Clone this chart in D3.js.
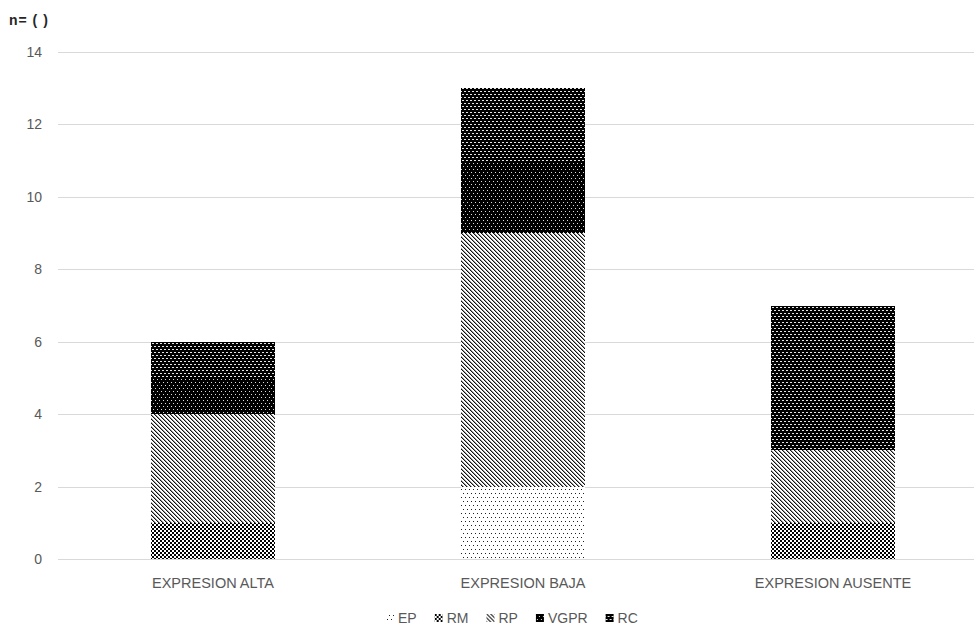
<!DOCTYPE html>
<html>
<head>
<meta charset="utf-8">
<script src="https://cdn.jsdelivr.net/npm/d3@7"></script>
<style>
  html, body { margin: 0; padding: 0; background: #fff; }
  svg { display: block; }
  text { font-family: "Liberation Sans", Arial, sans-serif; }
  pattern rect { shape-rendering: crispEdges; }
</style>
</head>
<body>
<svg id="chart" width="974" height="627"></svg>
<script>
// Response groups per expression level
const categories = ["EXPRESION ALTA", "EXPRESION BAJA", "EXPRESION AUSENTE"];
const seriesNames = ["EP", "RM", "RP", "VGPR", "RC"];
const epValues   = [0, 2, 0];
const rmValues   = [1, 0, 1];
const rpValues   = [3, 7, 2];
const vgprValues = [1, 2, 0];
const rcValues   = [1, 2, 4];
const yTicks = [0, 2, 4, 6, 8, 10, 12, 14];
const yLabel = "n= ( )";

const seriesValues = { EP: epValues, RM: rmValues, RP: rpValues, VGPR: vgprValues, RC: rcValues };
const rows = categories.map((c, i) => {
  const r = { category: c };
  seriesNames.forEach(s => r[s] = seriesValues[s][i]);
  return r;
});

const svg = d3.select("#chart");
const textColor = "#595959";

// Pixel fill patterns for each series
const defs = svg.append("defs");
function pattern(id, w, h, bg, fg, pixels) {
  const p = defs.append("pattern").attr("id", id)
    .attr("patternUnits", "userSpaceOnUse").attr("width", w).attr("height", h);
  p.append("rect").attr("width", w).attr("height", h).attr("fill", bg);
  pixels.forEach(([px, py, pw, ph, c]) => p.append("rect")
    .attr("x", px).attr("y", py).attr("width", pw || 1).attr("height", ph || 1)
    .attr("fill", c || fg));
}
// EP: sparse staggered dots on white
pattern("pat-EP", 8, 8, "#fff", "#222", [[1,1],[5,1],[3,5],[7,5]]);
// RM: small checkerboard
pattern("pat-RM", 4, 4, "#fff", "#000", [[0,0,2,2],[2,2,2,2]]);
// RP: downward diagonal lines
pattern("pat-RP", 4, 4, "#fff", "#111", [
  [0,0],[1,1],[2,2],[3,3],
  [1,0,1,1,"#999"],[2,1,1,1,"#999"],[3,2,1,1,"#999"],[0,3,1,1,"#999"]
]);
// VGPR: black with fine white dots
pattern("pat-VGPR", 8, 6, "#000", "#ddd", [[1,1],[5,1],[3,4],[7,4]]);
// RC: black with staggered white dashes
pattern("pat-RC", 4, 6, "#000", "#e6e6e6", [[0,1,2,1],[2,4,2,1]]);

const x = d3.scaleBand().domain(categories).range([58, 988]).paddingInner(0.6).paddingOuter(0.3);
const y = d3.scaleLinear().domain([0, 14]).range([559, 52]);

// Horizontal gridlines
svg.append("g").selectAll("line").data(yTicks).join("line")
  .attr("x1", 58).attr("x2", 974)
  .attr("y1", d => Math.round(y(d)) + 0.5).attr("y2", d => Math.round(y(d)) + 0.5)
  .attr("stroke", "#d9d9d9").attr("stroke-width", 1);

// Y axis labels
const yAxis = d3.axisLeft(y).tickValues(yTicks).tickSize(0).tickPadding(0);
const yg = svg.append("g").attr("transform", "translate(42,0)").call(yAxis);
yg.select(".domain").remove();
yg.selectAll("text").attr("fill", textColor).style("font-size", "14px")
  .style("font-family", "'Liberation Sans', Arial, sans-serif");

// Stacked bars
const stack = d3.stack().keys(seriesNames)(rows);
svg.append("g").selectAll("g").data(stack).join("g")
  .attr("fill", d => `url(#pat-${d.key})`)
  .selectAll("rect").data(d => d.filter(s => s[1] > s[0])).join("rect")
  .attr("x", d => Math.round(x(d.data.category)))
  .attr("width", Math.round(x.bandwidth()))
  .attr("y", d => Math.round(y(d[1])))
  .attr("height", d => Math.round(y(d[0])) - Math.round(y(d[1])));

// X axis labels
const xAxis = d3.axisBottom(x).tickSize(0).tickPadding(0);
const xg = svg.append("g").attr("transform", "translate(0,578)").call(xAxis);
xg.select(".domain").remove();
xg.selectAll("text").attr("fill", textColor).style("font-size", "14.5px")
  .style("font-family", "'Liberation Sans', Arial, sans-serif");

// Axis title
svg.append("text").attr("x", 9).attr("y", 25).text(yLabel)
  .attr("fill", "#262626").style("font-size", "14px").style("font-weight", "bold")
  .style("letter-spacing", "1px");

// Legend
const legend = svg.append("g");
const items = legend.selectAll("g").data(seriesNames).join("g");
items.append("rect").attr("width", 8).attr("height", 8).attr("y", -4)
  .attr("fill", d => `url(#pat-${d})`);
items.append("text").attr("x", 12).attr("dy", "0.35em").text(d => d)
  .attr("fill", textColor).style("font-size", "14px");
let cursor = 0;
items.each(function() {
  const w = this.getBBox().width;
  d3.select(this).attr("transform", `translate(${cursor},0)`);
  cursor += w + 18;
});
const total = cursor - 18;
legend.attr("transform", `translate(${Math.round(512 - total / 2)},618)`);
</script>
</body>
</html>
